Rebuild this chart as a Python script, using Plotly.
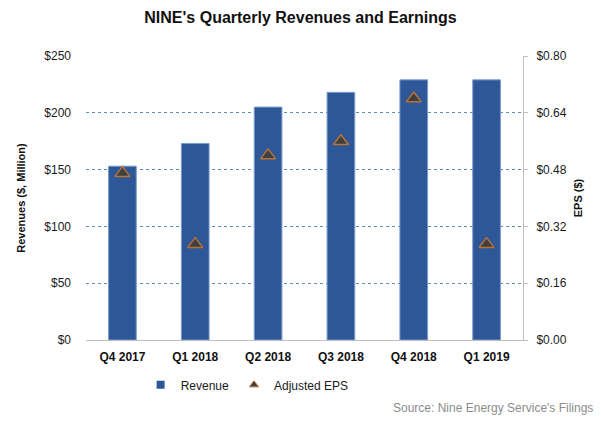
import plotly.graph_objects as go

quarters = ["Q4 2017", "Q1 2018", "Q2 2018", "Q3 2018", "Q4 2018", "Q1 2019"]
revenue = [153, 173, 205, 218, 229, 229]
eps = [0.47, 0.27, 0.52, 0.56, 0.68, 0.27]
rev_ticks = [0, 50, 100, 150, 200, 250]
eps_ticks = [0, 0.16, 0.32, 0.48, 0.64, 0.80]

fig = go.Figure()
fig.add_trace(go.Bar(
    x=quarters, y=revenue, name="Revenue", showlegend=False,
    marker=dict(color="#2e5797", line=dict(color="#7a9cc8", width=1)),
    width=0.38, yaxis="y",
))
fig.add_trace(go.Scatter(
    x=quarters, y=eps, name="Adjusted EPS", mode="markers", showlegend=False,
    marker=dict(symbol="triangle-up", size=13, color="#3f3f3f",
                line=dict(color="#b5733a", width=1.5)),
    yaxis="y2",
))
# legend entries
fig.add_trace(go.Scatter(
    x=[None], y=[None], name="Revenue", mode="markers",
    marker=dict(symbol="square", size=8, color="#2e5797"), yaxis="y",
))
fig.add_trace(go.Scatter(
    x=[None], y=[None], name="Adjusted EPS", mode="markers",
    marker=dict(symbol="triangle-up", size=8, color="#3f3f3f",
                line=dict(color="#b5733a", width=1)), yaxis="y2",
))

fig.update_layout(
    width=601, height=428,
    margin=dict(l=86, r=78, t=56, b=88),
    paper_bgcolor="white", plot_bgcolor="white",
    font=dict(family="Arial, Liberation Sans, sans-serif", size=12, color="#1a1a1a"),
    title=dict(text="<b>NINE's Quarterly Revenues and Earnings</b>",
               x=0.5, xanchor="center", y=0.96, yanchor="middle",
               font=dict(size=16, color="#111111")),
    xaxis=dict(
        type="category", showgrid=False, showline=True, linecolor="#bfbfbf",
        linewidth=1, ticks="", tickfont=dict(size=12, color="#111111"),
        ticklabelstandoff=6,
        tickvals=quarters, ticktext=[f"<b>{q}</b>" for q in quarters],
    ),
    yaxis=dict(
        range=[0, 250], tickvals=rev_ticks,
        ticktext=[f"${v}" for v in rev_ticks],
        showgrid=True, gridcolor="#5b8fb8", griddash="dot", gridwidth=1,
        zeroline=False, showline=False, ticks="", ticklabelstandoff=14,
        tickfont=dict(size=12, color="#1a1a1a"),
        title=dict(text="<b>Revenues ($, Million)</b>", font=dict(size=11, color="#111111"), standoff=16),
    ),
    yaxis2=dict(
        range=[0, 0.80], tickvals=eps_ticks,
        ticktext=[f"${v:.2f}" for v in eps_ticks],
        overlaying="y", side="right", showgrid=False, zeroline=False,
        showline=True, linecolor="#bfbfbf", linewidth=1,
        ticks="outside", ticklen=4, tickcolor="#bfbfbf", ticklabelstandoff=6,
        tickfont=dict(size=12, color="#1a1a1a"),
        title=dict(text="<b>EPS ($)</b>", font=dict(size=11, color="#111111"), standoff=8),
    ),
    legend=dict(orientation="h", x=0.125, xanchor="left", y=-0.158, yanchor="middle",
                font=dict(size=12, color="#1a1a1a"), itemwidth=30, tracegroupgap=0),
    bargap=0.62,
    showlegend=True,
)

fig.add_annotation(text="Source: Nine Energy Service's Filings", xref="paper", yref="paper",
                   x=1.165, y=-0.24, xanchor="right", yanchor="middle", showarrow=False,
                   font=dict(size=12, color="#8c8c8c"))

fig.write_html("out.html")
